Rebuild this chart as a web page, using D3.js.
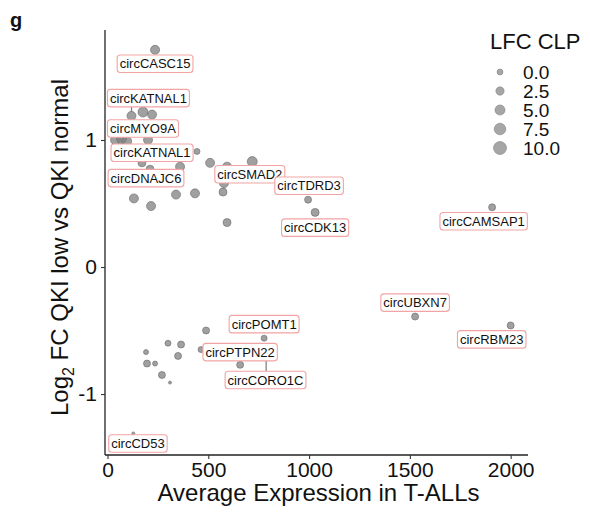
<!DOCTYPE html>
<html><head><meta charset="utf-8">
<script src="https://cdn.jsdelivr.net/npm/d3@7"></script>
<style>body{margin:0;background:#fff}svg{display:block}text{font-family:"Liberation Sans",Arial,Helvetica,sans-serif}</style>
</head><body><svg id="c" width="590" height="512"></svg>
<script>
// ---- data ----
const avgExpr = [236,119,176,221,40,70,95,201,444,509,718,593,578,360,171,211,131,216,340,434,573,593,995,1030,1908,489,300,365,191,350,464,196,236,270,310,658,777,787,1526,2000,128];
const log2FC  = [1.71,1.19,1.22,1.20,1.00,1.01,0.99,1.00,0.91,0.82,0.83,0.79,0.66,0.79,0.82,0.77,0.54,0.48,0.57,0.58,0.59,0.35,0.53,0.43,0.47,-0.50,-0.60,-0.61,-0.67,-0.70,-0.65,-0.76,-0.76,-0.85,-0.91,-0.77,-0.56,-0.68,-0.39,-0.46,-1.31];
const lfcCLP  = [3.5,3.4,4.8,3.4,4.8,4.8,4.8,3.4,0,3.4,4.8,3.4,3.4,3.4,2.1,2.1,3.4,3.4,3.4,3.4,2.1,2.1,1.0,2.1,1.0,1.0,0,1.0,-0.8,1.0,0,1.0,-0.8,1.0,-2,1.0,0,0,1.0,1.0,-2];
// labelled circRNAs: index of point, label name, label centre (data units, as placed by repel)
const labelIdx  = [0,1,5,14,15,11,22,23,24,36,35,37,38,39,40];
const labelText = ["circCASC15","circKATNAL1","circMYO9A","circKATNAL1","circDNAJC6","circSMAD2","circTDRD3","circCDK13","circCAMSAP1","circPOMT1","circPTPN22","circCORO1C","circUBXN7","circRBM23","circCD53"];
const labelX    = [236,203,176,221,191,706,1000,1030,1866,777,658,784,1526,1906,151];
const labelY    = [1.60,1.33,1.09,0.90,0.70,0.73,0.64,0.31,0.36,-0.45,-0.67,-0.89,-0.28,-0.57,-1.39];
const xTicks = [0,500,1000,1500,2000];
const yTicks = [-1,0,1];
const legendBreaks = [0.0,2.5,5.0,7.5,10.0];

// ---- layout ----
const svg = d3.select("#c");
const L=105, R=528, T=30, B=455;
const x = d3.scaleLinear().domain([-12.4,2086]).range([L,R]);
const y = d3.scaleLinear().domain([-1.48,1.866]).range([B,T]);
const area = d3.scaleLinear().domain([-2,10]).range([1.5*1.5,6.5*6.5]);
const rad = v => Math.sqrt(area(v));
const plain = d => String(d);

// axes
const xAxis = svg.append("g").attr("transform",`translate(0,${B})`)
  .call(d3.axisBottom(x).tickValues(xTicks).tickFormat(plain).tickSize(4).tickPadding(3).tickSizeOuter(0));
const yAxis = svg.append("g").attr("transform",`translate(${L},0)`)
  .call(d3.axisLeft(y).tickValues(yTicks).tickFormat(plain).tickSize(4).tickPadding(4).tickSizeOuter(0));
[xAxis,yAxis].forEach(g=>{
  g.select(".domain").attr("stroke","#222").attr("stroke-width",1.3);
  g.selectAll(".tick line").attr("stroke","#333").attr("stroke-width",1.1);
  g.selectAll(".tick text").attr("fill","#111").style("font-size","21px").attr("font-family",null);
});
xAxis.select(".domain").attr("d",`M${L},0H${R}`);
yAxis.select(".domain").attr("d",`M0,${T}V${B}`);

// titles
svg.append("text").attr("x",(L+R)/2+2).attr("y",501).attr("text-anchor","middle")
  .style("font-size","24px").attr("fill","#111").text("Average Expression in T-ALLs");
const yt = svg.append("text").attr("transform",`translate(68,${(T+B)/2+5}) rotate(-90)`)
  .attr("text-anchor","middle").style("font-size","24px").attr("fill","#111");
yt.append("tspan").text("Log");
yt.append("tspan").attr("dy",6).style("font-size","16px").text("2");
yt.append("tspan").attr("dy",-6).text(" FC QKI low vs QKI normal");
svg.append("text").attr("x",10).attr("y",27).style("font-size","20px").style("font-weight","bold").attr("fill","#111").text("g");

// points
const pts = avgExpr.map((v,i)=>({x:v,y:log2FC[i],s:lfcCLP[i]}));
svg.append("g").selectAll("circle").data(pts).join("circle")
  .attr("cx",d=>x(d.x)).attr("cy",d=>y(d.y)).attr("r",d=>rad(d.s))
  .attr("fill","#808080").attr("fill-opacity",0.75).attr("stroke","#666").attr("stroke-width",0.6);

// labels
const segG = svg.append("g"), labG = svg.append("g");
labelIdx.forEach((pi,k)=>{
  const g = labG.append("g");
  const t = g.append("text").attr("x",x(labelX[k])).attr("y",y(labelY[k])+4.6)
    .attr("text-anchor","middle").style("font-size","13px").attr("fill","#111").text(labelText[k]);
  const bb = t.node().getBBox();
  const w = bb.width+5, h = 17.5;
  const bx = x(labelX[k])-w/2, by = y(labelY[k])-h/2;
  g.insert("rect","text").attr("x",bx).attr("y",by).attr("width",w).attr("height",h)
    .attr("rx",3).attr("fill","#fff").attr("stroke","#f2a3a3").attr("stroke-width",1.1);
  const p = pts[pi], px = x(p.x), py = y(p.y), r = rad(p.s);
  const qx = Math.max(bx,Math.min(bx+w,px)), qy = Math.max(by,Math.min(by+h,py));
  const dx = qx-px, dy = qy-py, dist = Math.hypot(dx,dy);
  if (dist > r+4) {
    segG.append("line").attr("x1",px+dx/dist*r).attr("y1",py+dy/dist*r).attr("x2",qx).attr("y2",qy)
      .attr("stroke","#777").attr("stroke-width",1.2);
  }
});

// legend
const lg = svg.append("g");
lg.append("text").attr("x",490).attr("y",49).style("font-size","22px").attr("fill","#111").text("LFC CLP");
legendBreaks.forEach((b,i)=>{
  const cy = 72 + i*19;
  lg.append("circle").attr("cx",500).attr("cy",cy).attr("r",rad(b))
    .attr("fill","#808080").attr("fill-opacity",0.7).attr("stroke","#777").attr("stroke-width",0.5);
  lg.append("text").attr("x",523).attr("y",cy+7).style("font-size","19px").attr("fill","#111").text(b.toFixed(1));
});
</script></body></html>
